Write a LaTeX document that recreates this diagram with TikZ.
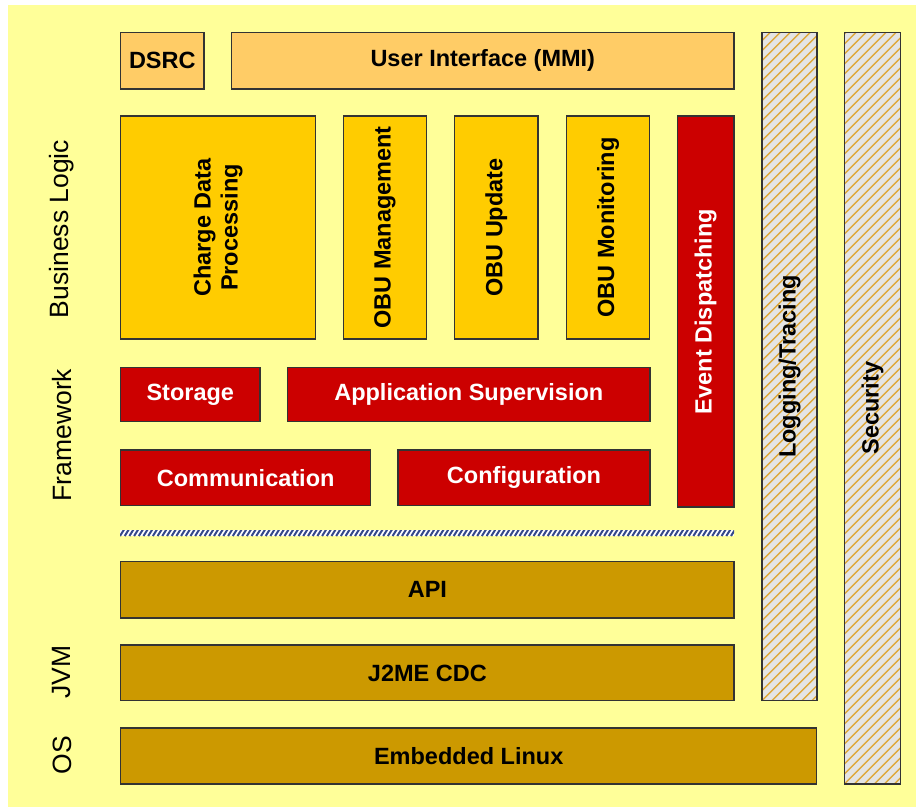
\documentclass[tikz,border=0pt]{standalone}
\usepackage{fontspec}
\setmainfont{Liberation Sans}
\definecolor{bgyellow}{HTML}{FFFF99}
\definecolor{uiorange}{HTML}{FFCC66}
\definecolor{bizyellow}{HTML}{FFCC00}
\definecolor{fwred}{HTML}{CC0000}
\definecolor{jvmbrown}{HTML}{CC9900}
\definecolor{edge}{HTML}{333333}
\definecolor{hatchgray}{HTML}{E4E4E4}
\definecolor{hatchgold}{RGB}{222,168,58}
\definecolor{sepblue}{HTML}{34488A}
\newcommand{\boxfont}{\bfseries\fontsize{23.5}{27}\selectfont}
\newcommand{\layerfont}{\fontsize{26.5}{30}\selectfont}
\begin{document}
\begin{tikzpicture}[x=1pt,y=-1pt,
  blk/.style={draw=edge, line width=1.3pt, inner sep=0pt, align=center, font=\boxfont},
  ui/.style={blk, fill=uiorange},
  biz/.style={blk, fill=bizyellow},
  fw/.style={blk, fill=fwred, text=white},
  jvm/.style={blk, fill=jvmbrown},
  vert/.style={rotate=90},
  layer/.style={font=\layerfont, rotate=90, inner sep=0pt},
  hatchline/.style={draw=hatchgold, line width=1.4pt},
  hatched/.style={blk, fill=hatchgray, path picture={
      \foreach \k in {0,...,92}
        \draw[hatchline] ([xshift={-820pt+\k*10pt}]path picture bounding box.south west) -- ++(820pt,820pt);}},
  separator/.style={draw=none, fill=white, inner sep=0pt, path picture={
      \foreach \k in {-2,...,134}
        \draw[draw=sepblue, line width=2pt] ([xshift={\k*4.7pt}]path picture bounding box.south west) -- ++(5pt,8pt);}}
]
% page and panel
\useasboundingbox (0,0) rectangle (916,807);
\fill[white] (0,0) rectangle (916,807);
\fill[bgyellow] (8,5) rectangle (916,807);

% layer captions
\node[layer] (lblbiz) at (62,229) {Business Logic};
\node[layer] (lblfw)  at (62,435) {Framework};
\node[layer] (lbljvm) at (62,672) {JVM};
\node[layer] (lblos)  at (62,755) {OS};

% top row
\node[ui, minimum width=83.3pt, minimum height=56.7pt] (dsrc) at (162.3,60.7) {DSRC};
\node[ui, minimum width=502.3pt, minimum height=56.7pt] (mmi) at (482.8,60.7) {User Interface (MMI)};

% business logic
\node[biz, vert, minimum width=223pt, minimum height=195pt] (cdp) at (218.2,227.5) {Charge Data\\Processing};
\node[biz, vert, minimum width=223pt, minimum height=83.4pt] (obumgmt) at (385,227.5) {OBU Management};
\node[biz, vert, minimum width=223pt, minimum height=83.5pt] (obuupd) at (496.3,227.5) {OBU Update};
\node[biz, vert, minimum width=223pt, minimum height=82.6pt] (obumon) at (608,227.5) {OBU Monitoring};

% framework
\node[fw, vert, minimum width=391pt, minimum height=56.7pt] (event) at (705.7,311.5) {Event Dispatching};
\node[fw, minimum width=139.3pt, minimum height=54.4pt] (storage) at (190.3,394.5) {Storage};
\node[fw, minimum width=362.5pt, minimum height=54.4pt] (appsup) at (468.8,394.5) {Application Supervision};
\node[fw, minimum width=250pt, minimum height=55.7pt] (comm) at (245.7,477.9) {Communication};
\node[fw, minimum width=252pt, minimum height=55.7pt] (config) at (524,477.9) {Configuration};

% boundary between framework and JVM
\node[separator, minimum width=614pt, minimum height=6pt] (sep) at (427,533) {};

% JVM and OS
\node[jvm, minimum width=613.3pt, minimum height=56.3pt] (api) at (427.4,589.9) {API};
\node[jvm, minimum width=613.3pt, minimum height=55.7pt] (j2me) at (427.4,672.9) {J2ME CDC};
\node[jvm, minimum width=696pt, minimum height=56pt] (linux) at (468.7,756) {Embedded Linux};

% cross-cutting concerns (upright boxes, text turned inside)
\node[hatched, minimum width=55pt, minimum height=668.4pt] (logging) at (789.5,366.5) {\rotatebox{90}{Logging/Tracing}};
\node[hatched, minimum width=56.4pt, minimum height=751.7pt] (security) at (872.5,408.2) {\rotatebox{90}{Security}};
\end{tikzpicture}
\end{document}
